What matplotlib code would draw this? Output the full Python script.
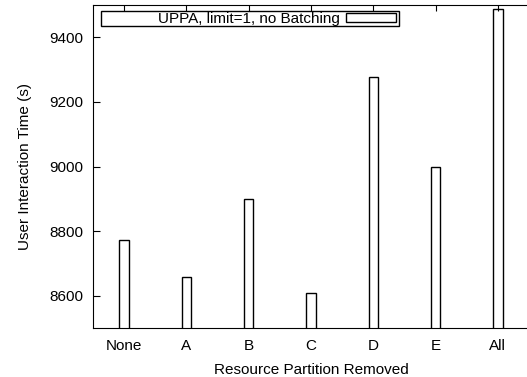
import matplotlib
matplotlib.use("Agg")
import matplotlib.pyplot as plt
from matplotlib.patches import Rectangle

# data
categories = ["None", "A", "B", "C", "D", "E", "All"]
times = [8773, 8657, 8898, 8608, 9276, 8998, 9487]
series_label = "UPPA, limit=1, no Batching"


def main() -> int:
    plt.rcParams["font.family"] = ["Liberation Sans", "DejaVu Sans"]
    plt.rcParams["font.size"] = 11

    fig = plt.figure(figsize=(5.27, 3.77), dpi=100)
    ax = fig.add_axes([93 / 527, 1 - 328 / 377, 436 / 527, 323 / 377])

    x = list(range(len(categories)))
    ax.bar(x, times, width=0.15, color="white",
           edgecolor="black", linewidth=1.0, label=series_label)

    ax.set_ylim(8500, 9500)
    ax.set_xlim(-0.5, 6.5)
    ax.set_yticks([8600, 8800, 9000, 9200, 9400])
    ax.set_xticks(x)
    ax.set_xticklabels(categories)
    ax.tick_params(axis="y", direction="in", length=5, pad=7)
    ax.tick_params(axis="x", direction="in", length=4, top=True,
                   bottom=False, pad=8)

    ax.set_ylabel("User Interaction Time (s)")
    ax.yaxis.set_label_coords(-0.141, 0.5)
    ax.set_xlabel("Resource Partition Removed", labelpad=7)

    # gnuplot-like key: wide box, text right-justified before the sample
    ax.add_patch(Rectangle((0.0183, 0.935), 0.6837, 0.0464,
                           transform=ax.transAxes, facecolor="white",
                           edgecolor="black", linewidth=1.0, zorder=4))
    leg = ax.legend(loc="center right", bbox_to_anchor=(0.695, 0.958),
                    markerfirst=False, frameon=False, borderpad=0,
                    handlelength=3.3, handleheight=0.52, handletextpad=0.35,
                    borderaxespad=0)
    leg.set_zorder(5)

    fig.savefig("out.png", dpi=100)
    return 0


if __name__ == "__main__":
    main()
